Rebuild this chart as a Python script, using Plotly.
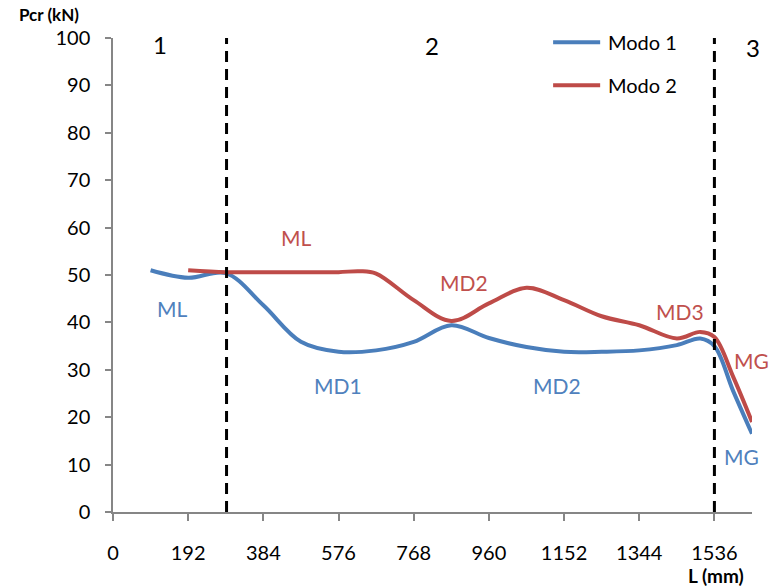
import plotly.graph_objects as go

# Critical load Pcr (kN) versus length L (mm) for the first two buckling modes
modo1_L = [96, 192, 288, 384, 480, 576, 672, 768, 864, 960, 1056, 1152, 1248, 1344, 1440, 1500, 1536, 1584, 1632]
modo1_P = [51.0, 49.4, 50.4, 43.6, 35.9, 33.8, 34.1, 35.9, 39.4, 36.7, 34.8, 33.8, 33.8, 34.1, 35.2, 36.6, 35.0, 25.5, 16.5]

modo2_L = [192, 288, 384, 480, 576, 630, 672, 768, 864, 960, 1056, 1152, 1248, 1344, 1440, 1500, 1536, 1584, 1632]
modo2_P = [51.0, 50.6, 50.6, 50.6, 50.6, 50.8, 50.3, 44.7, 40.3, 44.0, 47.3, 44.7, 41.3, 39.4, 36.6, 38.0, 36.9, 28.5, 19.0]

# Boundaries between the three behaviour zones
zone_limits = [290, 1536]
zone_names = ["1", "2", "3"]
zone_name_x = [120, 815, 1632]
zone_name_shift = [0, 0, 1]

x_ticks = [0, 192, 384, 576, 768, 960, 1152, 1344, 1536]
y_ticks = [0, 10, 20, 30, 40, 50, 60, 70, 80, 90, 100]

# Mode labels: (text, L, Pcr, series)
mode_labels = [
    ("ML", 150, 43.0, 1),
    ("MD1", 575, 26.7, 1),
    ("MD2", 1134, 26.7, 1),
    ("MG", 1605, 11.8, 1),
    ("ML", 467, 57.9, 2),
    ("MD2", 897, 48.5, 2),
    ("MD3", 1449, 42.3, 2),
    ("MG", 1630, 32.0, 2),
]

BLUE = "#4A7EBB"
RED = "#BE4B48"
BLUE_TXT = "#4F81BD"
RED_TXT = "#C0504D"
AXIS = "#868686"
FONT = "Lato"

# plot area in pixels, used to place the axis titles and the legend
L_PX, R_PX, T_PX, B_PX = 113.3, 751.7, 37.7, 511.7


def px_to_paper(px, py):
    return (px - L_PX) / (R_PX - L_PX), (B_PX - py) / (B_PX - T_PX)


fig = go.Figure()
fig.add_trace(go.Scatter(x=modo1_L, y=modo1_P, mode="lines", name="Modo 1",
                         line=dict(color=BLUE, width=4, shape="spline", smoothing=1.0)))
fig.add_trace(go.Scatter(x=modo2_L, y=modo2_P, mode="lines", name="Modo 2",
                         line=dict(color=RED, width=4, shape="spline", smoothing=1.0)))

shapes = []
for xl in zone_limits:
    shapes.append(dict(type="line", xref="x", yref="y", x0=xl, x1=xl, y0=0, y1=100,
                       line=dict(color="black", width=3, dash="11px,7px")))

annotations = []
for t, xz, sh, yz in zip(zone_names, zone_name_x, zone_name_shift, [98.6, 98.4, 98.0]):
    annotations.append(dict(x=xz, y=yz, xref="x", yref="y", text=t, showarrow=False,
                            xanchor="center", yanchor="middle", xshift=sh,
                            font=dict(family=FONT, size=24, color="black")))
for t, lx, ly, s in mode_labels:
    annotations.append(dict(x=lx, y=ly, xref="x", yref="y", text=t, showarrow=False,
                            xanchor="center", yanchor="middle",
                            font=dict(family=FONT, size=21, color=BLUE_TXT if s == 1 else RED_TXT)))

# Legend drawn as line samples with text
legend_items = [("Modo 1", BLUE, 42), ("Modo 2", RED, 85)]
for name, col, py in legend_items:
    x0, yy = px_to_paper(553, py)
    x1, _ = px_to_paper(600, py)
    xt, _ = px_to_paper(606, py)
    shapes.append(dict(type="line", xref="paper", yref="paper", x0=x0, x1=x1, y0=yy, y1=yy,
                       line=dict(color=col, width=4)))
    annotations.append(dict(x=xt, y=yy, xref="paper", yref="paper", text=name, showarrow=False,
                            xanchor="left", yanchor="middle",
                            font=dict(family=FONT, size=20, color="black")))

# Axis titles
for text, px, py, size in [("<b>Pcr (kN)</b>", 49, 14, 17), ("<b>L (mm)</b>", 716, 575, 19)]:
    ax, ay = px_to_paper(px, py)
    annotations.append(dict(x=ax, y=ay, xref="paper", yref="paper", text=text, showarrow=False,
                            xanchor="center", yanchor="middle", borderpad=0,
                            font=dict(family=FONT, size=size, color="black")))

fig.update_layout(
    width=771, height=587,
    margin=dict(l=113, r=19, t=38, b=75),
    paper_bgcolor="white", plot_bgcolor="white",
    showlegend=False,
    shapes=shapes, annotations=annotations,
    font=dict(family=FONT, color="black"),
)
fig.update_xaxes(range=[0, 1632], tickvals=x_ticks, ticktext=[str(v) for v in x_ticks],
                 showgrid=False, zeroline=False, showline=True, linecolor=AXIS, linewidth=1.5,
                 ticks="outside", ticklen=7, tickcolor=AXIS, tickwidth=1.5,
                 ticklabelstandoff=15, tickfont=dict(family=FONT, size=20, color="black"))
fig.update_yaxes(range=[0, 100], tickvals=y_ticks,
                 showgrid=False, zeroline=False, showline=True, linecolor=AXIS, linewidth=1.5,
                 ticks="outside", ticklen=6, tickcolor=AXIS, tickwidth=1.5,
                 ticklabelstandoff=11, tickfont=dict(family=FONT, size=20, color="black"))

fig.write_html("out.html")
